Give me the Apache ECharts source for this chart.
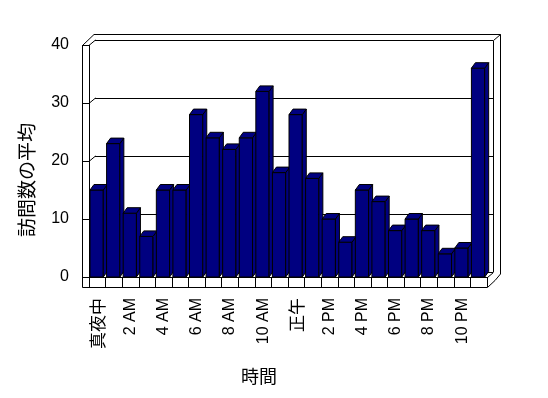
<!DOCTYPE html>
<html>
<head>
<meta charset="utf-8">
<script src="https://cdn.jsdelivr.net/npm/echarts@6/dist/echarts.min.js"></script>
<style>
html, body { margin: 0; padding: 0; background: #fff; }
#chart { width: 548px; height: 398px; }
</style>
</head>
<body>
<div id="chart"></div>
<script>
// data
var hours = ['真夜中', '1 AM', '2 AM', '3 AM', '4 AM', '5 AM', '6 AM', '7 AM', '8 AM', '9 AM', '10 AM', '11 AM',
             '正午', '1 PM', '2 PM', '3 PM', '4 PM', '5 PM', '6 PM', '7 PM', '8 PM', '9 PM', '10 PM', '11 PM'];
var visits = [15, 23, 11, 7, 15, 15, 28, 24, 22, 24, 32, 18, 28, 17, 10, 6, 15, 13, 8, 10, 8, 4, 5, 36];
var yTicks = [0, 10, 20, 30, 40];
var yTitle = '訪問数の平均';
var xTitle = '時間';

// layout of the front plane and the 3d depth shift
var L = 89, T = 45, W = 398, H = 232;
var DX = 6, DY = -5;
var BAR_DX = 4, BAR_DY = -5.5;
var LATIN = "'Liberation Sans', Arial, sans-serif";
var CJK = "'Noto Sans CJK JP', sans-serif";

var chart = echarts.init(document.getElementById('chart'));

function renderBar(params, api) {
    var base = api.coord([api.value(0), 0]);
    var top = api.coord([api.value(0), api.value(1)]);
    var band = api.size([1, 0])[0];
    var w = band * 0.8;
    var x0 = base[0] - band / 2 + 1;
    var x1 = x0 + w;
    var st = { fill: '#000080', stroke: '#000', lineWidth: 1 };
    return {
        type: 'group',
        children: [
            { type: 'rect', shape: { x: x0, y: top[1], width: w, height: base[1] - top[1] }, style: st },
            { type: 'polygon', shape: { points: [[x1, base[1]], [x1, top[1]], [x1 + BAR_DX, top[1] + BAR_DY], [x1 + BAR_DX, base[1] + BAR_DY]] }, style: st },
            { type: 'polygon', shape: { points: [[x0, top[1]], [x0 + BAR_DX, top[1] + BAR_DY], [x1 + BAR_DX, top[1] + BAR_DY], [x1, top[1]]] }, style: st }
        ]
    };
}

var option = {
    backgroundColor: '#fff',
    animation: false,
    textStyle: { fontFamily: LATIN, color: '#000' },
    grid: [
        { left: L, top: T, width: W, height: H },
        { left: L + DX, top: T + DY, width: W, height: H }
    ],
    xAxis: [
        {
            type: 'category', data: hours, gridIndex: 0, boundaryGap: true,
            axisLine: { lineStyle: { color: '#000', width: 1 } },
            axisTick: { show: true, interval: 0, length: 10, lineStyle: { color: '#000' } },
            axisLabel: {
                interval: 1, rotate: 90, margin: 21, fontSize: 16, color: '#000', fontFamily: LATIN,
                formatter: function (v) { return /[^\x00-\x7f]/.test(v) ? '{j|' + v + '}' : v; },
                rich: { j: { fontSize: 17, fontFamily: CJK, color: '#000' } }
            }
        },
        { type: 'category', data: hours, gridIndex: 1, show: false }
    ],
    yAxis: [
        {
            type: 'value', gridIndex: 0, min: yTicks[0], max: yTicks[yTicks.length - 1], interval: 10,
            axisLine: { show: true, lineStyle: { color: '#000', width: 1 } },
            axisTick: { show: true, length: 7, lineStyle: { color: '#000' } },
            axisLabel: { fontSize: 16, margin: 20, color: '#000', fontFamily: LATIN },
            splitLine: { show: false }
        },
        {
            type: 'value', gridIndex: 1, min: yTicks[0], max: yTicks[yTicks.length - 1], interval: 10,
            axisLine: { show: false }, axisTick: { show: false }, axisLabel: { show: false },
            splitLine: { show: true, lineStyle: { color: '#000', width: 1 } }
        }
    ],
    series: [{
        type: 'custom',
        xAxisIndex: 0, yAxisIndex: 0,
        clip: false,
        renderItem: renderBar,
        encode: { x: 0, y: 1 },
        data: visits.map(function (v, i) { return [i, v]; })
    }]
};
chart.setOption(option);

// walls and floor edges, placed from the axes
var line = { stroke: '#000', lineWidth: 1, fill: null };
var R = L + W;
var frame = [];
yTicks.forEach(function (v) {
    var y = chart.convertToPixel({ yAxisIndex: 0 }, v);
    frame.push({ type: 'polyline', z: 0, shape: { points: [[L + 0.5, y], [L + DX + 0.5, y + DY]] }, style: line });
});
var yTop = chart.convertToPixel({ yAxisIndex: 0 }, 40);
var yBot = chart.convertToPixel({ yAxisIndex: 0 }, 0);
frame.push(
    { type: 'polyline', shape: { points: [[L - 6.5, yBot + 10.5], [L - 6.5, yTop + 0.5], [L + 0.5, yTop + 0.5]] }, style: line },
    { type: 'polyline', shape: { points: [[L - 6.5, yTop + 0.5], [L + 5, yTop - 10.5], [R + DX + 7.5, yTop - 10.5], [R + DX + 7.5, yBot - 3], [R + 8, yBot + 3.5]] }, style: line },
    { type: 'polyline', shape: { points: [[R + DX + 0.5, yTop + DY + 0.5], [R + DX + 7.5, yTop - 10.5]] }, style: line },
    { type: 'polyline', shape: { points: [[R + DX + 0.5, yTop + DY + 0.5], [R + DX + 0.5, yBot + DY]] }, style: line },
    { type: 'polyline', shape: { points: [[L - 6.5, yBot + 10.5], [R + 0.5, yBot + 10.5], [R + 8, yBot + 3.5]] }, style: line },
    { type: 'polyline', shape: { points: [[R + 0.5, yBot + 0.5], [R + DX + 0.5, yBot + DY + 0.5]] }, style: line },
    { type: 'text', x: 27, y: 180, rotation: Math.PI / 2, style: { text: yTitle, font: '19px ' + CJK, fill: '#000', align: 'center', verticalAlign: 'middle' } },
    { type: 'text', x: 259, y: 376, style: { text: xTitle, font: '18px ' + CJK, fill: '#000', align: 'center', verticalAlign: 'middle' } }
);
chart.setOption({ graphic: frame });
</script>
</body>
</html>
